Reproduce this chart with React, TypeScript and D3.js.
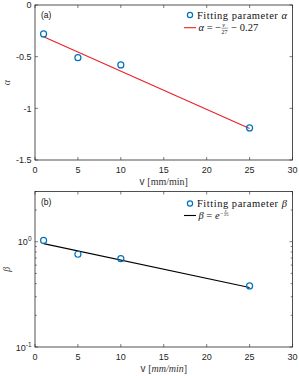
import React, { useEffect, useRef } from "react";
import * as d3 from "d3";

// fitted parameters vs. speed v [mm/min]
const speeds = [1, 5, 10, 25];
const alphaValues = [-0.28, -0.51, -0.58, -1.19];
const betaValues = [1.03, 0.76, 0.69, 0.38];
// fit line end points (v, value)
const alphaLine: [number, number][] = [[1, -0.307], [25, -1.196]];
const betaLine: [number, number][] = [[1, 0.96], [25, 0.368]];

const xTicks = [0, 5, 10, 15, 20, 25, 30];
const alphaTicks = [0, -0.5, -1, -1.5];
const betaTicks = [0.1, 1];
const betaMinorTicks = [0.2, 0.3, 0.4, 0.5, 0.6, 0.7, 0.8, 0.9, 2, 3];

const W = 299, H = 376;
const left = 35, right = 292.5;
const AX = "#262626";
const SANS = "Liberation Sans, Arial, sans-serif";
const SERIF = "Liberation Serif, Times New Roman, serif";
const BLUE = "#0072BD";
const LEG = 10.5;

type G = d3.Selection<SVGGElement, unknown, null, undefined>;

// append a text run and return its width
function run(g: G, x: number, y: number, s: string, size: number, italic = false, family = SERIF) {
  const t = g.append("text")
    .attr("x", x).attr("y", y)
    .attr("font-family", family).attr("font-size", size)
    .attr("font-style", italic ? "italic" : "normal")
    .style("white-space", "pre")
    .attr("fill", "#111").text(s);
  return (t.node() as SVGTextElement).getComputedTextLength();
}

const App: React.FC = () => {
  const ref = useRef<SVGSVGElement>(null);

  useEffect(() => {
    const svg = d3.select(ref.current);
    svg.selectAll("*").remove();

    const x = d3.scaleLinear().domain([0, 30]).range([left, right]);

    const frame = (g: G, top: number, bottom: number) => {
      g.append("rect").attr("x", left).attr("y", top)
        .attr("width", right - left).attr("height", bottom - top)
        .attr("fill", "white").attr("stroke", AX).attr("stroke-width", 0.8);
      xTicks.forEach((t) => {
        const px = x(t);
        g.append("line").attr("x1", px).attr("x2", px).attr("y1", bottom).attr("y2", bottom - 3)
          .attr("stroke", AX).attr("stroke-width", 0.6);
        g.append("line").attr("x1", px).attr("x2", px).attr("y1", top).attr("y2", top + 3)
          .attr("stroke", AX).attr("stroke-width", 0.6);
        g.append("text").attr("x", px).attr("y", bottom + 13)
          .attr("text-anchor", "middle").attr("font-family", SANS).attr("font-size", 9)
          .attr("fill", AX).text(t);
      });
    };

    const yTick = (g: G, py: number, len: number) => {
      g.append("line").attr("x1", left).attr("x2", left + len).attr("y1", py).attr("y2", py)
        .attr("stroke", AX).attr("stroke-width", 0.6);
      g.append("line").attr("x1", right).attr("x2", right - len).attr("y1", py).attr("y2", py)
        .attr("stroke", AX).attr("stroke-width", 0.6);
    };

    const xLabel = (g: G, y: number, italic: boolean) => {
      const t = g.append("text").attr("x", (left + right) / 2).attr("y", y)
        .attr("text-anchor", "middle").attr("font-size", 10).attr("fill", "#333")
        .style("white-space", "pre");
      t.append("tspan").attr("font-family", SANS).text("v ");
      t.append("tspan").attr("font-family", SERIF).text("[");
      t.append("tspan").attr("font-family", SERIF).attr("font-style", italic ? "italic" : "normal").text("mm/min");
      t.append("tspan").attr("font-family", SERIF).text("]");
    };

    const legendTitle = (g: G, y: number, sym: string) => {
      const t = g.append("text").attr("x", 197).attr("y", y)
        .attr("font-family", SERIF).attr("font-size", LEG).attr("fill", "#111")
        .style("white-space", "pre")
        .attr("textLength", 90).attr("lengthAdjust", "spacing");
      t.append("tspan").text("Fitting parameter ");
      t.append("tspan").attr("font-style", "italic").text(sym);
    };

    // ---------- panel (a) ----------
    const aTop = 5, aBottom = 160;
    const ya = d3.scaleLinear().domain([-1.5, 0]).range([aBottom, aTop]);
    const ga = svg.append("g") as unknown as G;
    frame(ga, aTop, aBottom);
    alphaTicks.forEach((t) => {
      yTick(ga, ya(t), 3);
      ga.append("text").attr("x", left - 3.5).attr("y", ya(t) + 3.2)
        .attr("text-anchor", "end").attr("font-family", SANS).attr("font-size", 9)
        .attr("fill", AX).text(String(t));
    });
    ga.append("path").datum(alphaLine)
      .attr("d", d3.line<[number, number]>().x((d) => x(d[0])).y((d) => ya(d[1])))
      .attr("stroke", "#E8202A").attr("stroke-width", 1.1).attr("fill", "none");
    speeds.forEach((v, i) => {
      ga.append("circle").attr("cx", x(v)).attr("cy", ya(alphaValues[i])).attr("r", 3)
        .attr("fill", "none").attr("stroke", BLUE).attr("stroke-width", 1.2);
    });
    ga.append("text").attr("x", 41).attr("y", 18).attr("font-family", SANS)
      .attr("font-size", 8.5).attr("fill", "#111").text("(a)");
    xLabel(ga, aBottom + 25, false);
    ga.append("text").attr("transform", `translate(10,${(aTop + aBottom) / 2}) rotate(-90)`)
      .attr("text-anchor", "middle").attr("font-family", SERIF).attr("font-style", "italic")
      .attr("font-size", 10).attr("fill", "#444").text("α");

    // legend (a)
    ga.append("circle").attr("cx", 190).attr("cy", 15).attr("r", 2.6)
      .attr("fill", "none").attr("stroke", BLUE).attr("stroke-width", 1.2);
    legendTitle(ga, 18.5, "α");
    ga.append("line").attr("x1", 184).attr("x2", 196).attr("y1", 27.7).attr("y2", 27.7)
      .attr("stroke", "#E8202A").attr("stroke-width", 1.1);
    let cx = 198.5;
    cx += run(ga, cx, 31, "α", LEG, true);
    cx += run(ga, cx, 31, " = −", LEG);
    const fw = run(ga, cx + 1.2, 27, "v", 6, true);
    const dw = run(ga, cx + 0.5, 33.5, "27", 6);
    ga.append("line").attr("x1", cx + 0.3).attr("x2", cx + Math.max(fw, dw) + 1)
      .attr("y1", 28.2).attr("y2", 28.2).attr("stroke", "#111").attr("stroke-width", 0.4);
    cx += Math.max(fw, dw) + 1.5;
    run(ga, cx, 31, " − 0.27", LEG);

    // ---------- panel (b) ----------
    const bTop = 191.5, bBottom = 347;
    const yb = d3.scaleLog().domain([0.1, 3]).range([bBottom, bTop]);
    const gb = svg.append("g") as unknown as G;
    frame(gb, bTop, bBottom);
    betaMinorTicks.forEach((t) => yTick(gb, yb(t), 1.8));
    betaTicks.forEach((t) => {
      yTick(gb, yb(t), 3);
      const e = Math.round(Math.log10(t));
      const txt = gb.append("text").attr("x", left - 3.5).attr("y", yb(t) + 3.5)
        .attr("text-anchor", "end").attr("font-family", SANS).attr("font-size", 9).attr("fill", AX);
      txt.append("tspan").text("10");
      txt.append("tspan").attr("font-size", 6.5).attr("dy", -4).text(String(e));
    });
    gb.append("path").datum(betaLine)
      .attr("d", d3.line<[number, number]>().x((d) => x(d[0])).y((d) => yb(d[1])))
      .attr("stroke", "#000").attr("stroke-width", 1.1).attr("fill", "none");
    speeds.forEach((v, i) => {
      gb.append("circle").attr("cx", x(v)).attr("cy", yb(betaValues[i])).attr("r", 3)
        .attr("fill", "none").attr("stroke", BLUE).attr("stroke-width", 1.2);
    });
    gb.append("text").attr("x", 41).attr("y", bTop + 13).attr("font-family", SANS)
      .attr("font-size", 8.5).attr("fill", "#111").text("(b)");
    xLabel(gb, bBottom + 25, true);
    gb.append("text").attr("transform", `translate(10,${(bTop + bBottom) / 2}) rotate(-90)`)
      .attr("text-anchor", "middle").attr("font-family", SERIF).attr("font-style", "italic")
      .attr("font-size", 10).attr("fill", "#444").text("β");

    // legend (b)
    gb.append("circle").attr("cx", 190).attr("cy", bTop + 12).attr("r", 2.6)
      .attr("fill", "none").attr("stroke", BLUE).attr("stroke-width", 1.2);
    legendTitle(gb, bTop + 15.5, "β");
    gb.append("line").attr("x1", 184).attr("x2", 196).attr("y1", bTop + 24).attr("y2", bTop + 24)
      .attr("stroke", "#000").attr("stroke-width", 1.1);
    const by = bTop + 27.5;
    cx = 198.5;
    cx += run(gb, cx, by, "β", LEG, true);
    cx += run(gb, cx, by, " = ", LEG);
    cx += run(gb, cx, by, "e", LEG, true);
    cx += run(gb, cx + 0.5, by - 4.5, "−", 6) + 1;
    const nw = run(gb, cx + 0.8, by - 7, "v", 4.5, true);
    const mw = run(gb, cx, by - 2.8, "25", 4.5);
    gb.append("line").attr("x1", cx).attr("x2", cx + Math.max(nw, mw))
      .attr("y1", by - 6.2).attr("y2", by - 6.2).attr("stroke", "#111").attr("stroke-width", 0.3);
  }, []);

  return (
    <svg ref={ref} width={W} height={H}
      style={{ position: "absolute", left: 0, top: 0, background: "white" }} />
  );
};

export default App;
